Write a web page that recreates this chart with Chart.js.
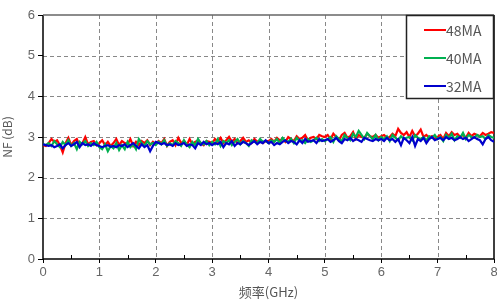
<!DOCTYPE html>
<html>
<head>
<meta charset="utf-8">
<script src="https://cdn.jsdelivr.net/npm/chart.js@4"></script>
<style>
    body { margin: 0; background: #fff; }
    #wrap { width: 497px; height: 300px; position: relative; }
</style>
</head>
<body>
<div id="wrap"><canvas id="nfChart" width="497" height="300"></canvas></div>
<script>
// Frequency step between samples (GHz)
const step = 0.05;
const xTicks = [0, 1, 2, 3, 4, 5, 6, 7, 8];
const yTicks = [0, 1, 2, 3, 4, 5, 6];

const labels = ['48MA', '40MA', '32MA'];
const colors = ['#ff0000', '#00b050', '#0000cc'];

// NF (dB), one row per GHz
const nf48 = [
    2.80,2.78,2.85,2.95,2.88,2.92,2.80,2.62,2.85,2.98,2.80,2.90,2.95,2.78,2.85,3.00,2.82,2.88,2.90,2.80,
    2.85,2.92,2.80,2.88,2.78,2.85,2.95,2.80,2.90,2.85,2.82,2.95,2.78,2.88,2.80,2.90,2.85,2.92,2.80,2.88,
    2.82,2.90,2.85,2.95,2.78,2.88,2.92,2.80,2.98,2.85,2.90,2.80,2.95,2.82,2.88,2.92,2.85,2.80,2.90,2.88,
    2.85,2.95,2.88,2.98,2.85,2.92,3.00,2.88,2.95,2.85,2.90,2.98,2.88,2.92,2.85,2.95,2.88,2.92,2.85,2.90,
    2.90,2.95,2.88,2.98,2.92,2.95,2.88,3.00,2.95,2.90,3.02,2.95,2.98,3.05,2.92,2.98,3.00,2.95,3.05,3.02,
    3.00,3.05,2.95,3.08,3.00,2.92,3.05,3.10,2.98,3.02,3.12,2.95,3.05,3.00,2.98,3.08,3.02,3.00,3.05,2.98,
    3.02,3.05,2.98,3.00,3.08,3.02,3.20,3.10,3.05,3.12,3.00,3.15,3.02,3.08,3.18,3.00,3.05,2.98,3.02,2.95,
    3.00,3.05,2.95,3.10,3.02,3.12,3.05,3.08,3.00,3.05,2.98,3.10,3.02,3.08,3.05,3.02,3.10,3.05,3.08,3.12,3.10
];
const nf40 = [
    2.82,2.80,2.85,2.78,2.90,2.82,2.75,2.88,2.80,2.92,2.78,2.85,2.70,2.88,2.82,2.90,2.78,2.85,2.80,2.88,
    2.75,2.70,2.82,2.65,2.78,2.72,2.85,2.68,2.80,2.70,2.88,2.75,2.82,2.70,2.95,2.85,2.78,2.90,2.82,2.85,
    2.80,2.88,2.82,2.92,2.78,2.85,2.80,2.90,2.85,2.78,2.92,2.82,2.75,2.88,2.80,2.95,2.85,2.82,2.90,2.80,
    2.88,2.82,2.95,2.78,2.90,2.85,2.92,2.80,2.88,2.95,2.82,2.90,2.85,2.78,2.92,2.88,2.85,2.95,2.88,2.90,
    2.85,2.92,2.88,2.95,2.85,2.98,2.90,2.88,2.95,2.85,2.98,2.90,2.92,2.85,2.95,2.88,2.92,2.98,2.90,2.95,
    2.90,2.95,3.00,2.88,3.02,2.95,2.90,3.05,2.98,2.92,3.08,3.00,3.15,3.05,2.95,3.10,3.02,2.95,3.05,2.92,
    3.00,2.95,3.02,2.90,3.05,2.98,2.92,3.02,2.95,2.98,3.00,2.92,3.05,2.98,2.95,3.00,2.92,3.02,2.98,3.05,
    2.95,3.00,2.90,3.05,2.98,3.08,2.92,3.02,2.98,3.10,2.95,3.05,3.00,2.98,3.05,3.00,3.02,2.95,3.05,3.00,2.98
];
const nf32 = [
    2.82,2.80,2.78,2.80,2.75,2.78,2.82,2.72,2.80,2.85,2.78,2.82,2.88,2.75,2.85,2.80,2.82,2.78,2.85,2.80,
    2.78,2.75,2.78,2.80,2.76,2.78,2.75,2.80,2.78,2.82,2.75,2.80,2.85,2.78,2.72,2.82,2.75,2.80,2.65,2.78,
    2.88,2.85,2.82,2.85,2.80,2.82,2.78,2.85,2.80,2.82,2.85,2.78,2.82,2.80,2.72,2.85,2.80,2.88,2.82,2.85,
    2.80,2.85,2.82,2.88,2.75,2.85,2.82,2.90,2.78,2.85,2.82,2.88,2.85,2.80,2.85,2.90,2.82,2.88,2.85,2.92,
    2.85,2.88,2.80,2.85,2.82,2.88,2.92,2.85,2.90,2.88,2.82,2.92,2.85,2.95,2.88,2.90,2.92,2.85,2.95,2.90,
    2.92,2.95,2.88,2.92,2.98,2.90,2.85,2.95,2.92,2.98,2.90,2.95,2.92,2.88,2.98,2.95,2.92,2.90,2.95,2.92,
    2.95,2.90,2.98,2.92,2.95,2.88,2.95,2.80,2.98,2.92,2.85,3.00,2.78,2.95,2.90,2.98,2.85,2.95,3.00,2.92,
    2.95,2.98,2.92,3.00,2.95,2.98,2.92,2.95,3.00,2.95,2.98,2.90,2.95,3.00,2.95,2.92,2.82,2.95,3.00,2.92,2.88
];

const series = [nf48, nf40, nf32];
const toPoints = arr => arr.map((v, i) => ({ x: +(i * step).toFixed(2), y: v }));

// Legend box drawn inside the plot, top right
const boxLegend = {
    id: 'boxLegend',
    afterDraw(chart) {
        const { ctx, chartArea } = chart;
        const w = 88, h = 84;
        const x0 = chartArea.right - w, y0 = chartArea.top;
        ctx.save();
        ctx.fillStyle = '#fff';
        ctx.fillRect(x0, y0, w, h);
        ctx.strokeStyle = '#222';
        ctx.lineWidth = 1.5;
        ctx.strokeRect(x0 + 0.5, y0 + 0.5, w - 1, h - 1);
        ctx.font = '14px "Noto Sans CJK SC", "DejaVu Sans Mono", monospace';
        ctx.textBaseline = 'middle';
        chart.data.datasets.forEach((ds, i) => {
            const y = y0 + 15 + i * 28;
            ctx.strokeStyle = ds.borderColor;
            ctx.lineWidth = 2;
            ctx.beginPath();
            ctx.moveTo(x0 + 18, y);
            ctx.lineTo(x0 + 40, y);
            ctx.stroke();
            ctx.fillStyle = '#555';
            ctx.fillText(ds.label, x0 + 40, y + 1);
        });
        ctx.restore();
    }
};

// Dashed grid and frame lines, drawn under the data
const frame = {
    id: 'frame',
    beforeDatasetsDraw(chart) {
        const { ctx, chartArea: a } = chart;
        const xs = chart.scales.x, ys = chart.scales.y;
        ctx.save();
        ctx.strokeStyle = '#888';
        ctx.lineWidth = 1;
        ctx.setLineDash([4, 3]);
        xTicks.slice(1, -1).forEach(v => {
            const px = Math.round(xs.getPixelForValue(v)) + 0.5;
            ctx.beginPath();
            ctx.moveTo(px, a.top);
            ctx.lineTo(px, a.bottom);
            ctx.stroke();
        });
        yTicks.slice(1, -1).forEach(v => {
            const py = Math.round(ys.getPixelForValue(v)) + 0.5;
            ctx.beginPath();
            ctx.moveTo(a.left, py);
            ctx.lineTo(a.right, py);
            ctx.stroke();
        });
        ctx.setLineDash([]);

        ctx.strokeStyle = '#000';
        ctx.lineWidth = 1.5;
        ctx.beginPath();
        ctx.moveTo(a.left, a.top);
        ctx.lineTo(a.left, a.bottom);
        ctx.lineTo(a.right, a.bottom);
        ctx.lineTo(a.right, a.top);
        ctx.stroke();
        ctx.strokeStyle = '#666';
        ctx.beginPath();
        ctx.moveTo(a.left, a.top);
        ctx.lineTo(a.right, a.top);
        ctx.stroke();
        // minor ticks on x axis
        ctx.strokeStyle = '#000';
        ctx.lineWidth = 1;
        for (let v = 0.5; v < 8; v += 1) {
            const px = Math.round(xs.getPixelForValue(v)) + 0.5;
            ctx.beginPath();
            ctx.moveTo(px, a.bottom);
            ctx.lineTo(px, a.bottom - 4);
            ctx.stroke();
        }
        ctx.restore();
    }
};

const tickFont = { family: '"Liberation Sans", Arial, sans-serif', size: 13 };

new Chart(document.getElementById('nfChart'), {
    type: 'line',
    data: {
        datasets: series.map((arr, i) => ({
            label: labels[i],
            data: toPoints(arr),
            borderColor: colors[i],
            backgroundColor: colors[i],
            borderWidth: 2.2,
            pointRadius: 0,
            tension: 0,
            order: series.length - i
        }))
    },
    options: {
        responsive: false,
        animation: false,
        layout: { padding: { left: 0, right: 3, top: 15, bottom: 0 } },
        plugins: { legend: { display: false }, tooltip: { enabled: false } },
        scales: {
            x: {
                type: 'linear',
                min: 0, max: 8,
                afterBuildTicks: s => { s.ticks = xTicks.map(v => ({ value: v })); },
                afterFit: s => { s.height = 41; s.paddingRight = 0; },
                grid: { color: 'rgba(0,0,0,0)', tickColor: '#000', tickLength: 4 },
                border: { display: false },
                ticks: { color: '#666', font: tickFont, padding: 2, maxRotation: 0 },
                title: {
                    display: true,
                    text: '频率(GHz)',
                    color: '#555',
                    font: { family: '"Noto Sans CJK SC", sans-serif', size: 13 },
                    padding: { top: 0, bottom: 0 }
                }
            },
            y: {
                min: 0, max: 6,
                afterBuildTicks: s => { s.ticks = yTicks.map(v => ({ value: v })); },
                afterFit: s => { s.width = 43; },
                grid: { color: 'rgba(0,0,0,0)', tickColor: '#000', tickLength: 5 },
                border: { display: false },
                ticks: { color: '#666', font: tickFont, padding: 3 },
                title: {
                    display: true,
                    text: 'NF (dB)',
                    color: '#555',
                    font: { family: '"Noto Sans CJK SC", sans-serif', size: 12 },
                    padding: { top: 0, bottom: 2 }
                }
            }
        }
    },
    plugins: [frame, boxLegend]
});
</script>
</body>
</html>
